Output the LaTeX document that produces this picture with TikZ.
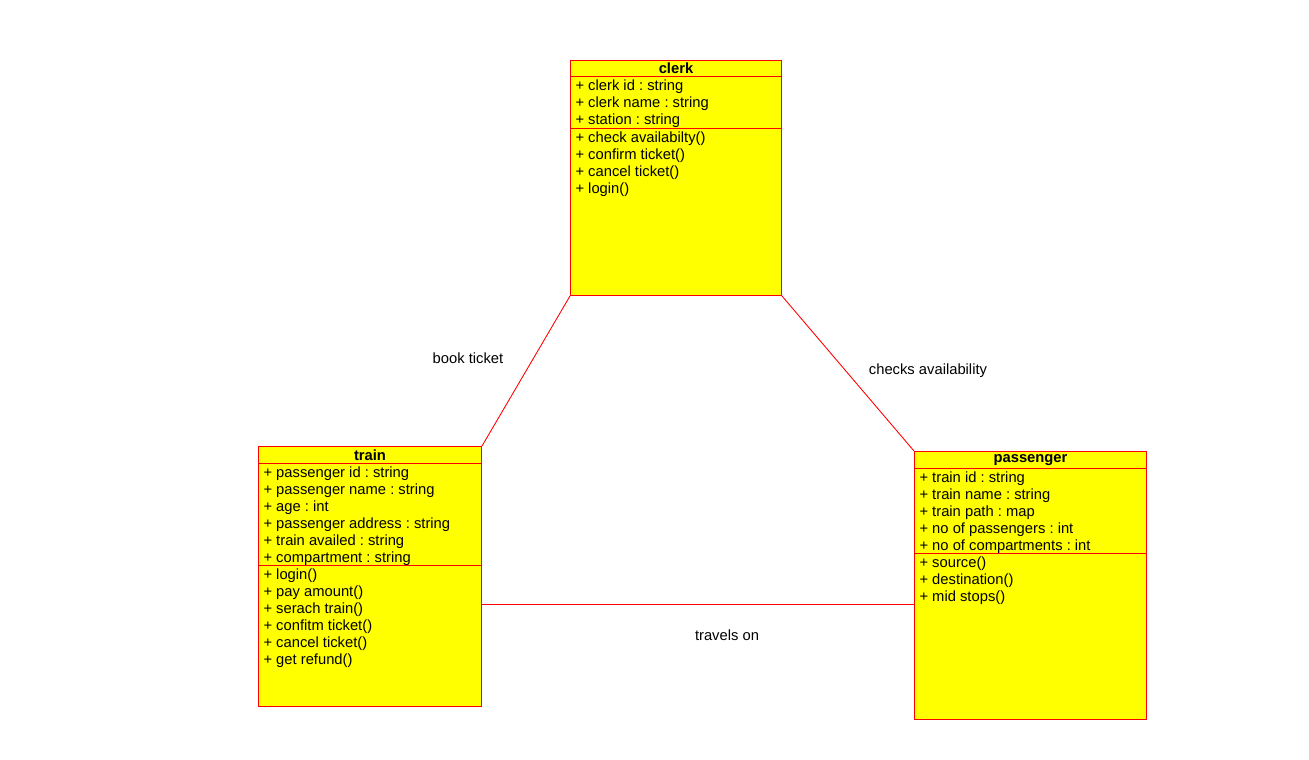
\documentclass[tikz,border=0pt]{standalone}
\usepackage{fontspec}
\setmainfont{Liberation Sans}
\usetikzlibrary{positioning}
\definecolor{classfill}{RGB}{255,255,0}
\definecolor{classline}{RGB}{255,0,0}
\frenchspacing
% member list of a class box: width, height, lines
\newcommand{\memberlist}[3]{\parbox[t][#2][t]{#1}{\frenchspacing\rule{0pt}{0.28cm}#3}}
\begin{document}
\begin{tikzpicture}[x=0.02cm,y=-0.02cm,node distance=-0.6pt,
  classtitle/.style={draw=classline,fill=classfill,line width=0.6pt,inner sep=0pt,font=\fontsize{8.4}{9.7}\selectfont\bfseries},
  classpart/.style={draw=classline,fill=classfill,line width=0.6pt,inner xsep=0.1cm,inner ysep=0pt,font=\fontsize{8.4}{9.7}\selectfont},
  assoc/.style={draw=classline,line width=0.5pt},
  assoclabel/.style={font=\fontsize{8.4}{9.7}\selectfont}]
\useasboundingbox (0,0) rectangle (1309,760);

% clerk
\node[classtitle,minimum width=4.22cm,minimum height=0.32cm,anchor=north west] (clerk) at (570,60) {clerk};
\node[classpart,minimum width=4.22cm,minimum height=1.04cm,below=of clerk] (clerkattr) {\memberlist{4.02cm}{1.04cm}{+ clerk id : string\\+ clerk name : string\\+ station : string}};
\node[classpart,minimum width=4.22cm,minimum height=3.34cm,below=of clerkattr] (clerkops) {\memberlist{4.02cm}{3.34cm}{+ check availabilty()\\+ confirm ticket()\\+ cancel ticket()\\+ login()}};

% train
\node[classtitle,minimum width=4.46cm,minimum height=0.34cm,anchor=north west] (train) at (258,446) {train};
\node[classpart,minimum width=4.46cm,minimum height=2.04cm,below=of train] (trainattr) {\memberlist{4.26cm}{2.04cm}{+ passenger id : string\\+ passenger name : string\\+ age : int\\+ passenger address : string\\+ train availed : string\\+ compartment : string}};
\node[classpart,minimum width=4.46cm,minimum height=2.82cm,below=of trainattr] (trainops) {\memberlist{4.26cm}{2.82cm}{+ login()\\+ pay amount()\\+ serach train()\\+ confitm ticket()\\+ cancel ticket()\\+ get refund()}};

% passenger
\node[classtitle,minimum width=4.64cm,minimum height=0.34cm,anchor=north west] (passenger) at (914,451) {passenger};
\node[classpart,minimum width=4.64cm,minimum height=1.70cm,below=of passenger] (passattr) {\memberlist{4.44cm}{1.70cm}{+ train id : string\\+ train name : string\\+ train path : map\\+ no of passengers : int\\+ no of compartments : int}};
\node[classpart,minimum width=4.64cm,minimum height=3.32cm,below=of passattr] (passops) {\memberlist{4.44cm}{3.32cm}{+ source()\\+ destination()\\+ mid stops()}};

% associations
\draw[assoc] (clerkops.south west) -- (train.north east);
\draw[assoc] (clerkops.south east) -- (passenger.north west);
\draw[assoc] ([yshift=-0.78cm]trainops.north east) -- ([yshift=-0.78cm]trainops.north east -| passops.west);

\node[assoclabel] (booklbl) at (468,358) {book ticket};
\node[assoclabel] (checklbl) at (928,371) {checks availability};
\node[assoclabel] (travellbl) at (727,635) {travels on};
\end{tikzpicture}
\end{document}
